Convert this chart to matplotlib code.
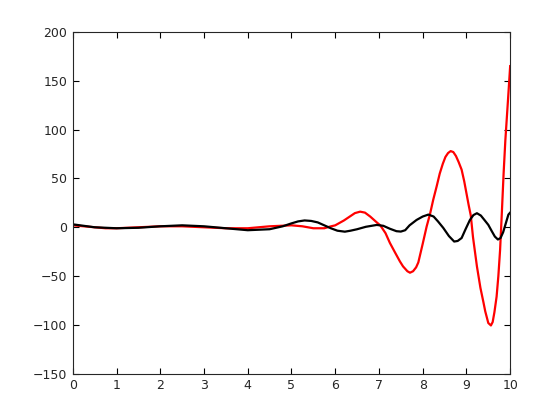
import matplotlib.pyplot as plt

# red curve
red_x = [0, 0.25, 0.5, 0.75, 1.0, 1.25, 1.5, 2.0, 2.5, 3.0, 3.5, 4.0, 4.5, 5.0, 5.25,
         5.5, 5.75, 5.88, 6.0, 6.1, 6.2, 6.3, 6.45, 6.57, 6.68, 6.8, 6.95, 7.03, 7.15,
         7.25, 7.37, 7.48, 7.55, 7.65, 7.71, 7.78, 7.85, 7.9, 8.0, 8.09, 8.17, 8.24,
         8.32, 8.39, 8.46, 8.52, 8.58, 8.64, 8.7, 8.76, 8.82, 8.89, 8.95, 9.0, 9.05,
         9.1, 9.15, 9.24, 9.32, 9.39, 9.43, 9.5, 9.56, 9.6, 9.64, 9.69, 9.73, 9.77,
         9.81, 9.85, 9.89, 9.95, 10.0]
red_y = [2, 1, 0, -1, -1, -0.5, 0, 1, 1, 0, -1, -1, 1, 2, 1,
         -1, -1, 0.7, 2, 4.5, 7, 10, 14.5, 16, 15, 11, 5, 2, -6,
         -16, -26, -35, -40, -45, -46.5, -45, -41, -36, -17, 0.7, 14, 28,
         42, 55, 65, 72, 76, 78, 77, 73, 67, 59, 47, 35, 23,
         12, -10, -40, -62, -77, -86, -98, -100.5, -97, -87, -71, -50, -23,
         15, 55, 89, 130, 165]

# black curve
blk_x = [0, 0.5, 1.0, 1.5, 2.0, 2.5, 3.0, 3.5, 4.0, 4.5, 4.8, 5.0, 5.15, 5.3, 5.45,
         5.6, 5.75, 5.9, 6.05, 6.22, 6.35, 6.5, 6.7, 6.95, 7.1, 7.25, 7.4, 7.5, 7.6,
         7.7, 7.86, 8.0, 8.13, 8.25, 8.35, 8.47, 8.6, 8.72, 8.8, 8.89, 8.98, 9.08,
         9.16, 9.24, 9.33, 9.42, 9.5, 9.58, 9.65, 9.72, 9.78, 9.84, 9.9, 9.96, 10.0]
blk_y = [3, 0, -1, -0.5, 1, 2, 1, -1, -3, -2, 1, 4, 6, 7, 6.5,
         5, 2, -1, -3.5, -4.5, -3.5, -2, 0.5, 2.4, 1.5, -1.5, -4, -4.4, -3,
         2, 7.5, 11, 13, 11, 6, -0.6, -9, -14.6, -14, -11, -2, 7.5,
         12.5, 14.4, 12, 7, 2.5, -4, -9.5, -12.5, -11, -5, 4, 13, 15]

fig = plt.figure(figsize=(5.6, 4.2), dpi=100)
ax = fig.add_axes([0.13, 0.11, 0.781, 0.814])

ax.plot(red_x, red_y, color='red', lw=1.6)
ax.plot(blk_x, blk_y, color='black', lw=1.6)

ax.set_xlim(0, 10)
ax.set_ylim(-150, 200)
ax.set_xticks(range(0, 11))
ax.set_yticks(range(-150, 201, 50))

ax.tick_params(direction='in', top=True, right=True, length=4, width=0.8,
               labelsize=9, labelcolor='#262626', pad=4)
for s in ax.spines.values():
    s.set_linewidth(0.8)
    s.set_color('#262626')

fig.savefig('out.png', dpi=100)
